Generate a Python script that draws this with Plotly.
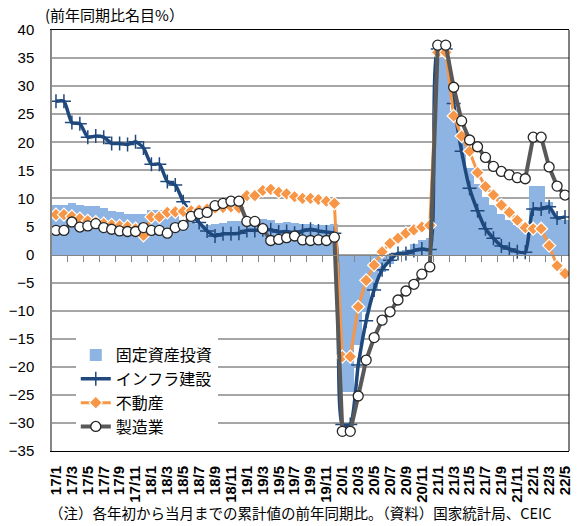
import plotly.graph_objects as go

# ---- data (cumulative YoY %, Jan & Feb share the Jan-Feb value) ----
months = []
for yy in range(17, 23):
    for mm in range(1, 13):
        if yy == 22 and mm > 5:
            break
        months.append(f"{yy}/{mm}")

fai = [8.9, 8.9, 9.2, 8.9, 8.6, 8.6, 8.3, 7.8, 7.5, 7.3, 7.2, 7.2,
       7.9, 7.9, 7.5, 7.0, 6.1, 6.0, 5.5, 5.3, 5.4, 5.7, 5.9, 5.9,
       6.1, 6.1, 6.3, 6.1, 5.6, 5.8, 5.7, 5.5, 5.4, 5.2, 5.2, 5.4,
       -24.5, -24.5, -16.1, -10.3, -6.3, -3.1, -1.6, -0.3, 0.8, 1.8, 2.6, 2.9,
       35.0, 35.0, 25.6, 19.9, 15.4, 12.6, 10.3, 8.9, 7.3, 6.1, 5.2, 4.9,
       12.2, 12.2, 9.3, 6.8, 6.2]

infra = [27.3, 27.3, 23.5, 23.3, 20.9, 21.1, 20.9, 19.8, 19.8, 19.6, 20.1, 19.0,
         16.1, 16.1, 13.0, 12.4, 9.4, 7.3, 5.7, 4.2, 3.3, 3.7, 3.7, 3.8,
         4.3, 4.3, 4.4, 4.4, 4.0, 4.1, 3.8, 4.2, 4.5, 4.2, 4.0, 3.8,
         -30.3, -30.3, -19.7, -11.8, -6.3, -2.7, -1.0, 0.2, 0.2, 0.7, 1.0, 0.9,
         36.6, 36.6, 26.9, 18.4, 11.8, 7.8, 4.6, 2.9, 1.5, 1.0, 0.5, 0.4,
         8.1, 8.1, 8.5, 6.5, 6.7]

realestate = [7.1, 7.1, 6.8, 6.4, 6.0, 5.8, 5.5, 5.3, 5.1, 5.0, 4.6, 3.4,
              6.7, 6.7, 7.5, 7.6, 7.7, 7.8, 7.9, 8.1, 8.3, 8.4, 8.5, 8.3,
              10.5, 10.5, 11.4, 11.6, 11.1, 10.8, 10.3, 10.0, 10.0, 9.8, 9.5, 9.1,
              -18.2, -18.2, -9.3, -4.6, -1.9, 0.5, 2.0, 2.9, 3.8, 4.4, 4.9, 5.2,
              36.0, 36.0, 24.7, 21.1, 18.4, 14.6, 12.1, 10.6, 8.8, 7.5, 6.1, 4.8,
              4.6, 4.6, 1.6, -2.0, -3.4]

manuf = [4.3, 4.3, 5.8, 4.9, 5.1, 5.5, 4.8, 4.5, 4.2, 4.1, 4.1, 4.8,
         4.3, 4.3, 3.8, 4.8, 5.2, 6.8, 7.3, 7.5, 8.7, 9.1, 9.5, 9.5,
         5.9, 5.9, 4.6, 2.5, 2.7, 3.0, 3.3, 2.6, 2.5, 2.6, 2.5, 3.1,
         -31.5, -31.5, -25.2, -18.8, -14.8, -11.7, -10.2, -8.1, -6.5, -5.3, -3.5, -2.2,
         37.3, 37.3, 29.8, 23.8, 20.4, 19.2, 17.3, 15.7, 14.8, 14.2, 13.7, 13.5,
         20.9, 20.9, 15.6, 12.2, 10.6]

series_names = ["固定資産投資", "インフラ建設", "不動産", "製造業"]
y_ticks = list(range(-35, 41, 5))

xs = list(range(len(months)))
tick_idx = xs[::2]
tick_txt = ["<b>%s</b>" % t for t in months[::2]]
bound_ticks = [i + 1.5 for i in range(0, len(months) - 1, 2)]

FONT = "Liberation Sans, Noto Sans CJK JP, sans-serif"
JFONT = "Noto Sans CJK JP, sans-serif"

fig = go.Figure()
fig.add_trace(go.Bar(x=xs, y=fai, name=series_names[0],
                     marker=dict(color="#8DB4E2", line=dict(width=0))))
fig.add_trace(go.Scatter(x=xs, y=infra, name=series_names[1], mode="lines+markers",
                         line=dict(color="#1F497D", width=3.5, shape="spline", smoothing=0.6),
                         marker=dict(symbol="cross-thin", size=10,
                                     line=dict(color="#1F497D", width=1.5))))
fig.add_trace(go.Scatter(x=xs, y=realestate, name=series_names[2], mode="lines+markers",
                         line=dict(color="#F79646", width=3),
                         marker=dict(symbol="diamond", size=10, color="#F79646",
                                     line=dict(color="white", width=1.2))))
fig.add_trace(go.Scatter(x=xs, y=manuf, name=series_names[3], mode="lines+markers",
                         line=dict(color="#595959", width=4),
                         marker=dict(symbol="circle", size=10, color="white",
                                     line=dict(color="#262626", width=1.3))))
# carrier trace for the zero-level category axis
fig.add_trace(go.Scatter(x=[xs[0]], y=[0], xaxis="x2", mode="none",
                         showlegend=False, hoverinfo="skip"))

fig.update_layout(
    width=578, height=526,
    margin=dict(l=52, r=9, t=30, b=75, autoexpand=False),
    paper_bgcolor="white", plot_bgcolor="white",
    bargap=0,
    font=dict(family=FONT, size=15, color="black"),
    showlegend=True,
    legend=dict(x=0.046, y=0.268, xanchor="left", yanchor="top",
                bgcolor="white", borderwidth=0,
                font=dict(family=JFONT, size=16, color="black"),
                tracegroupgap=0),
    xaxis=dict(range=[-0.5, len(months) - 0.5], tickmode="array",
               tickvals=tick_idx, ticktext=tick_txt, tickangle=-90,
               ticks="", showgrid=False, zeroline=False, automargin=False,
               ticklabelstandoff=8,
               showline=True, linecolor="black", linewidth=1, mirror=True,
               tickfont=dict(family=FONT, size=15, color="black")),
    xaxis2=dict(overlaying="x", anchor="free", position=35 / 75,
                range=[-0.5, len(months) - 0.5], tickmode="array",
                tickvals=bound_ticks, ticks="outside", ticklen=6,
                tickcolor="#868686", tickwidth=1, showticklabels=False,
                showgrid=False, zeroline=False, automargin=False,
                showline=True, linecolor="#868686", linewidth=1),
    yaxis=dict(range=[-35, 40], tickmode="array", tickvals=y_ticks,
               showgrid=True, gridcolor="#A6A6A6", gridwidth=1.5,
               zeroline=False, showline=True, linecolor="#868686", linewidth=1.5,
               automargin=False, ticklabelstandoff=13,
               ticks="", tickfont=dict(family=FONT, size=15, color="black")),
    shapes=[dict(type="line", xref="paper", yref="paper", x0=1, x1=1, y0=0, y1=1,
                 line=dict(color="black", width=1))],
    annotations=[
        dict(text="(前年同期比名目%）", xref="paper", yref="paper",
             x=-0.018, y=1.036, xanchor="left", yanchor="middle", showarrow=False,
             font=dict(family=JFONT, size=15, color="black")),
        dict(text="（注）各年初から当月までの累計値の前年同期比。（資料）国家統計局、CEIC",
             xref="paper", yref="paper", x=0.48, y=-0.1758, xanchor="center",
             yanchor="bottom", showarrow=False,
             font=dict(family=JFONT, size=14.5, color="black")),
    ],
)

fig.write_html("out.html", config={"displayModeBar": False},
               post_script="document.body.style.margin='0';document.body.style.overflow='hidden';")
